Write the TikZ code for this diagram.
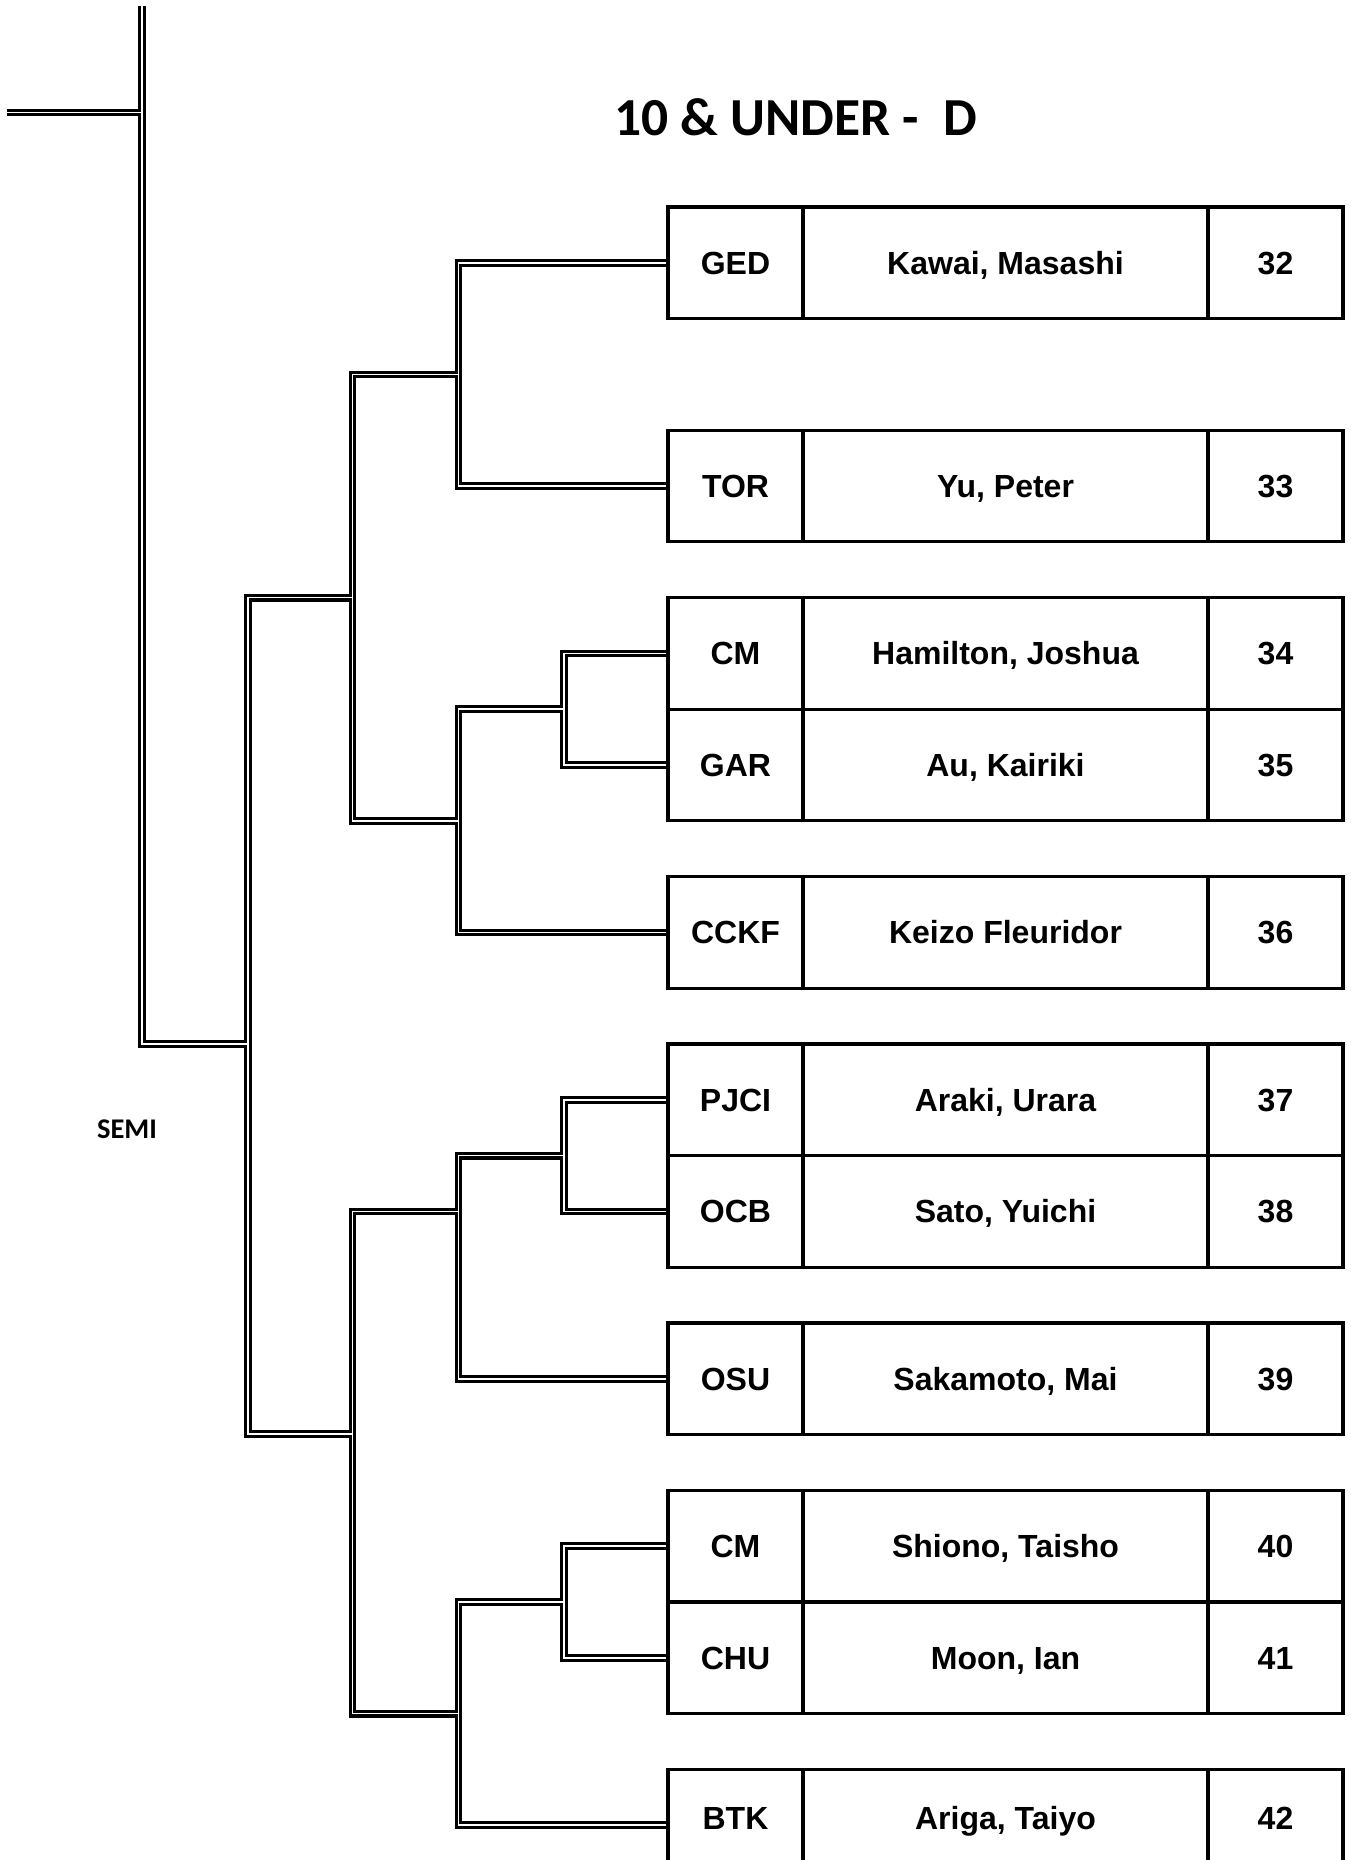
\documentclass[tikz,border=0pt]{standalone}
\usepackage{fontspec}
\setmainfont{Liberation Sans}
\newfontfamily\titlefont{Carlito}
\usetikzlibrary{positioning,backgrounds}

\begin{document}
\begin{tikzpicture}[x=1pt, y=-1pt,
    cell/.style={draw, rectangle, line width=3.2pt, minimum width=135pt, minimum height=111.6pt,
      inner sep=0pt, outer sep=0pt, text height=22.5pt, text depth=0pt,
      font=\bfseries\fontsize{32}{32}\selectfont},
    namecell/.style={cell, minimum width=405pt},
    cutrow/.style={text depth=14pt},
    wireback/.style={line width=7.8pt, black},
    wirefront/.style={line width=1.6pt, white}]
  \useasboundingbox (0,0) rectangle (1351,1860);

  \node (title) [anchor=base] at (795.5,135) {\titlefont\bfseries\fontsize{53.5}{53.5}\selectfont 10 \& UNDER -\ \ D};
  \node (semilabel) [anchor=base] at (127,1138) {\titlefont\bfseries\fontsize{28.5}{28.5}\selectfont SEMI};

  % entries
  \node (c32) [cell] at (735.5,262.8) {GED};
  \node (n32) [namecell, right=0pt of c32] {Kawai, Masashi};
  \node (s32) [cell, right=0pt of n32] {32};
  \node (c33) [cell, below=111.6pt of c32] {TOR};
  \node (n33) [namecell, right=0pt of c33] {Yu, Peter};
  \node (s33) [cell, right=0pt of n33] {33};
  \node (c34) [cell, below=55.8pt of c33] {CM};
  \node (n34) [namecell, right=0pt of c34] {Hamilton, Joshua};
  \node (s34) [cell, right=0pt of n34] {34};
  \node (c35) [cell, below=0pt of c34] {GAR};
  \node (n35) [namecell, right=0pt of c35] {Au, Kairiki};
  \node (s35) [cell, right=0pt of n35] {35};
  \node (c36) [cell, below=55.8pt of c35] {CCKF};
  \node (n36) [namecell, right=0pt of c36] {Keizo Fleuridor};
  \node (s36) [cell, right=0pt of n36] {36};
  \node (c37) [cell, below=55.8pt of c36] {PJCI};
  \node (n37) [namecell, right=0pt of c37] {Araki, Urara};
  \node (s37) [cell, right=0pt of n37] {37};
  \node (c38) [cell, below=0pt of c37] {OCB};
  \node (n38) [namecell, right=0pt of c38] {Sato, Yuichi};
  \node (s38) [cell, right=0pt of n38] {38};
  \node (c39) [cell, below=55.8pt of c38] {OSU};
  \node (n39) [namecell, right=0pt of c39] {Sakamoto, Mai};
  \node (s39) [cell, right=0pt of n39] {39};
  \node (c40) [cell, below=55.8pt of c39] {CM};
  \node (n40) [namecell, right=0pt of c40] {Shiono, Taisho};
  \node (s40) [cell, right=0pt of n40] {40};
  \node (c41) [cell, below=0pt of c40] {CHU};
  \node (n41) [namecell, right=0pt of c41] {Moon, Ian};
  \node (s41) [cell, right=0pt of n41] {41};
  \node (c42) [cell, cutrow, below=55.8pt of c41] {BTK};
  \node (n42) [namecell, cutrow, right=0pt of c42] {Ariga, Taiyo};
  \node (s42) [cell, cutrow, right=0pt of n42] {42};

  % bracket joints
  \coordinate (p34) at (564,709.2);
  \coordinate (p37) at (564,1155.6);
  \coordinate (p40) at (564,1602);
  \coordinate (q32) at (458.5,374.4);
  \coordinate (q34) at (458.5,820.8);
  \coordinate (q37) at (458.5,1211.4);
  \coordinate (q40) at (458.5,1713.6);
  \coordinate (t32) at (352.5,597.6);
  \coordinate (t37) at (352.5,1434);
  \coordinate (u32) at (248,1044);
  \coordinate (top) at (142,6);
  \coordinate (exit) at (7,112.5);

  % double lines, black first then white
  \begin{scope}[on background layer]
    \foreach \layer in {wireback,wirefront} {
      \draw [\layer] (c32.west) -| (q32) |- (c33.west);
      \draw [\layer] (c34.west) -| (p34) |- (c35.west);
      \draw [\layer] (p34) -| (q34) |- (c36.west);
      \draw [\layer] (q32) -| (t32) |- (q34);
      \draw [\layer] (c37.west) -| (p37) |- (c38.west);
      \draw [\layer] (p37) -| (q37) |- (c39.west);
      \draw [\layer] (c40.west) -| (p40) |- (c41.west);
      \draw [\layer] (p40) -| (q40) |- (c42.west);
      \draw [\layer] (q37) -| (t37) |- (q40);
      \draw [\layer] (t32) -| (u32) |- (t37);
      \draw [\layer] (u32) -| (top);
      \draw [\layer] (exit) -- (exit -| top);
    }
  \end{scope}
\end{tikzpicture}
\end{document}
